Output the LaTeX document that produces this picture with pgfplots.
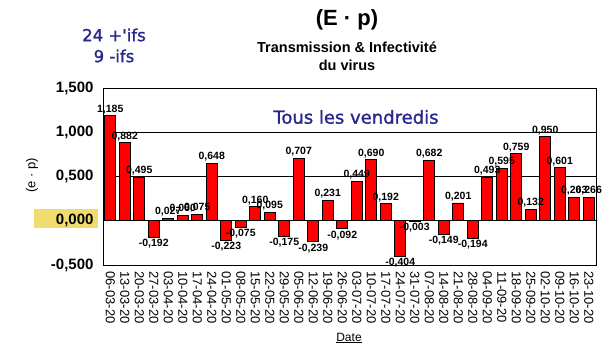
\documentclass[border=0pt]{standalone}
\usepackage{pgfplots}
\pgfplotsset{compat=1.18}
\usepackage{pgfplotstable}
\usepackage{fontspec}
\setmainfont{Liberation Sans}
\newfontfamily\verd[FakeBold=1.3]{DejaVu Sans}
\definecolor{navyt}{RGB}{40,40,140}
\definecolor{hiyel}{RGB}{240,220,110}
\definecolor{barred}{RGB}{255,0,0}
\pgfplotstableread{
x date v
0 06-03-20 1.185
1 13-03-20 0.882
2 20-03-20 0.495
3 27-03-20 -0.192
4 03-04-20 0.027
5 10-04-20 0.060
6 17-04-20 0.075
7 24-04-20 0.648
8 01-05-20 -0.223
9 08-05-20 -0.075
10 15-05-20 0.160
11 22-05-20 0.095
12 29-05-20 -0.175
13 05-06-20 0.707
14 12-06-20 -0.239
15 19-06-20 0.231
16 26-06-20 -0.092
17 03-07-20 0.449
18 10-07-20 0.690
19 17-07-20 0.192
20 24-07-20 -0.404
21 31-07-20 -0.003
22 07-08-20 0.682
23 14-08-20 -0.149
24 21-08-20 0.201
25 28-08-20 -0.194
26 04-09-20 0.493
27 11-09-20 0.595
28 18-09-20 0.759
29 25-09-20 0.132
30 02-10-20 0.950
31 09-10-20 0.601
32 16-10-20 0.263
33 23-10-20 0.266
}\datatable
\begin{document}
\begin{tikzpicture}[x=1pt,y=1pt]
\path[use as bounding box] (0,0) rectangle (609,352);
\fill[hiyel] (34,124) rectangle (98,143);
\begin{axis}[
  at={(103pt,87pt)}, anchor=south west,
  scale only axis, width=493pt, height=177pt,
  xmin=-0.5, xmax=33.5, ymin=-0.5, ymax=1.5,
  ytick={-0.5,0,0.5,1,1.5},
  xtick=data,
  xticklabels from table={\datatable}{date},
  xticklabel style={rotate=-90, anchor=west, font=\fontsize{13}{14}\selectfont},
  xticklabel shift=3pt,
  yticklabel style={font=\bfseries\fontsize{15}{17}\selectfont},
  yticklabel shift=6pt,
  major tick length=0pt,
  ymajorgrids, grid style={black, line width=0.8pt},
  axis line style={black, line width=0.8pt},
  /pgf/number format/.cd, fixed, fixed zerofill, precision=3, use comma, assume math mode=true,
  /pgfplots/.cd,
  ybar, bar width=11pt,
  nodes near coords,
  every node near coord/.append style={font=\bfseries\fontsize{10.5}{12}\selectfont, inner sep=1.5pt,
    /pgf/number format/.cd, fixed, fixed zerofill, precision=3, use comma, assume math mode=true},
  clip=false,
]
\addplot[fill=barred, draw=black, line width=0.8pt, bar shift=0pt] table[x=x, y=v] {\datatable};
\end{axis}
\node[font=\bfseries\fontsize{22}{26}\selectfont] at (347,332) {(E · p)};
\node[font=\bfseries\fontsize{14.5}{17}\selectfont] at (347,305) {Transmission \& Infectivité};
\node[font=\bfseries\fontsize{14.5}{17}\selectfont] at (347,287) {du virus};
\node[font=\verd\fontsize{16.5}{19}\selectfont, text=navyt] at (114,317) {24 +'ifs};
\node[font=\verd\fontsize{16.5}{19}\selectfont, text=navyt] at (114,296) {9 -ifs};
\node[font=\verd\fontsize{18}{21}\selectfont, text=navyt] at (356,235) {Tous les vendredis};
\node[font=\fontsize{13}{15}\selectfont, rotate=90] at (32,177) {(e · p)};
\node[font=\fontsize{12}{14}\selectfont] at (349,14) {\underline{Date}};
\end{tikzpicture}
\end{document}
